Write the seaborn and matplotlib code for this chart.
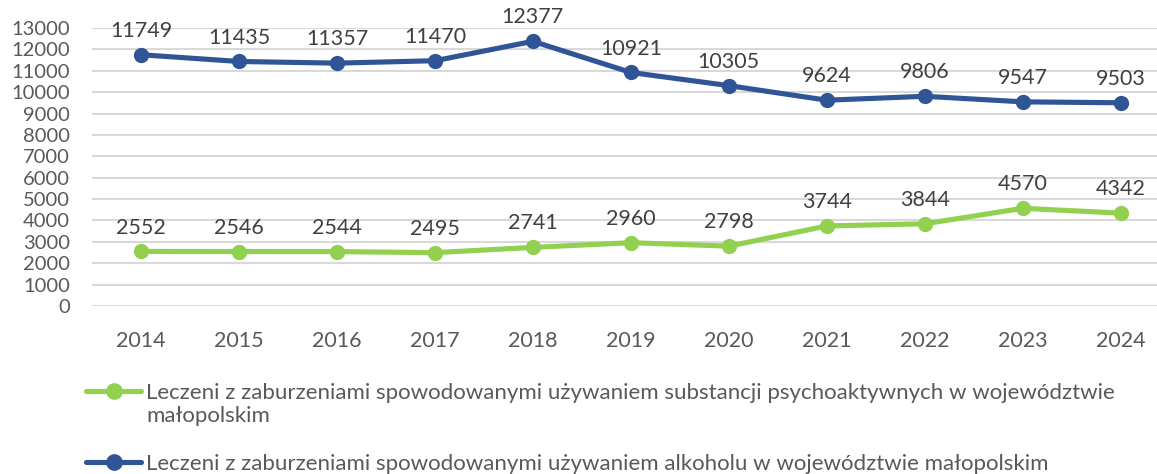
import pandas as pd
import numpy as np
import matplotlib.pyplot as plt
import seaborn as sns
from matplotlib.legend_handler import HandlerLine2D

# dane
years = [2014, 2015, 2016, 2017, 2018, 2019, 2020, 2021, 2022, 2023, 2024]
substancje = [2552, 2546, 2544, 2495, 2741, 2960, 2798, 3744, 3844, 4570, 4342]
alkohol = [11749, 11435, 11357, 11470, 12377, 10921, 10305, 9624, 9806, 9547, 9503]

label_sub = ('Leczeni z zaburzeniami spowodowanymi używaniem substancji psychoaktywnych '
             'w województwie\nmałopolskim')
label_alk = 'Leczeni z zaburzeniami spowodowanymi używaniem alkoholu w województwie małopolskim'

colors = {label_sub: '#92D050', label_alk: '#2F5597'}

df = pd.concat([
    pd.DataFrame({'rok': years, 'liczba': substancje, 'seria': label_sub}),
    pd.DataFrame({'rok': years, 'liczba': alkohol, 'seria': label_alk}),
])

sns.set_theme(style='white')
plt.rcParams['font.family'] = ['Lato', 'DejaVu Sans']

fig = plt.figure(figsize=(11.57, 4.74), dpi=100)
ax = fig.add_axes([92 / 1157, 168 / 474, 1 - 92 / 1157, 278 / 474])

sns.lineplot(data=df, x='rok', y='liczba', hue='seria', palette=colors,
             marker='o', markersize=11, markeredgewidth=0, linewidth=3.7,
             ax=ax, legend=False)

# etykiety wartości
for vals in (substancje, alkohol):
    for x, v in zip(years, vals):
        ax.annotate(str(v), (x, v), xytext=(0, 10), textcoords='offset points',
                    ha='center', va='bottom', fontsize=15.5, color='#404040')

ax.set_ylim(0, 13000)
ax.set_yticks(np.arange(0, 13001, 1000))
ax.set_xlim(2013.5, 2024.37)
ax.set_xticks(years)
ax.grid(axis='y', color='#D9D9D9', linewidth=1.5)
ax.set_axisbelow(True)
for s in ax.spines.values():
    s.set_visible(False)
ax.tick_params(axis='both', length=0, labelcolor='#595959')
ax.tick_params(axis='x', pad=18, labelsize=15.5)
ax.tick_params(axis='y', pad=16, labelsize=14.5)
ax.set_xlabel('')
ax.set_ylabel('')


# uchwyt legendy wyrównany do pierwszej linii tekstu
class TopLine(HandlerLine2D):
    def __init__(self, shift=0, **kw):
        super().__init__(**kw)
        self.shift = shift

    def create_artists(self, legend, orig_handle, xdescent, ydescent, width, height,
                       fontsize, trans):
        arts = super().create_artists(legend, orig_handle, xdescent, ydescent, width,
                                      height, fontsize, trans)
        for a in arts:
            a.set_ydata(np.asarray(a.get_ydata()) + self.shift)
        return arts


leg_fs = 16
handles = [plt.Line2D([], [], color=colors[label_sub], marker='o', markersize=11, linewidth=3.7),
           plt.Line2D([], [], color=colors[label_alk], marker='o', markersize=11, linewidth=3.7)]
fig.legend(handles, [label_sub, label_alk], loc='upper left',
           bbox_to_anchor=(77 / 1157, 1 - 374 / 474), frameon=False,
           fontsize=leg_fs, labelcolor='#595959', handlelength=2.5, handletextpad=0.2,
           labelspacing=1.25, borderaxespad=0,
           handler_map={handles[0]: TopLine(shift=0.62 * leg_fs)})

plt.savefig('out.png', dpi=100)
